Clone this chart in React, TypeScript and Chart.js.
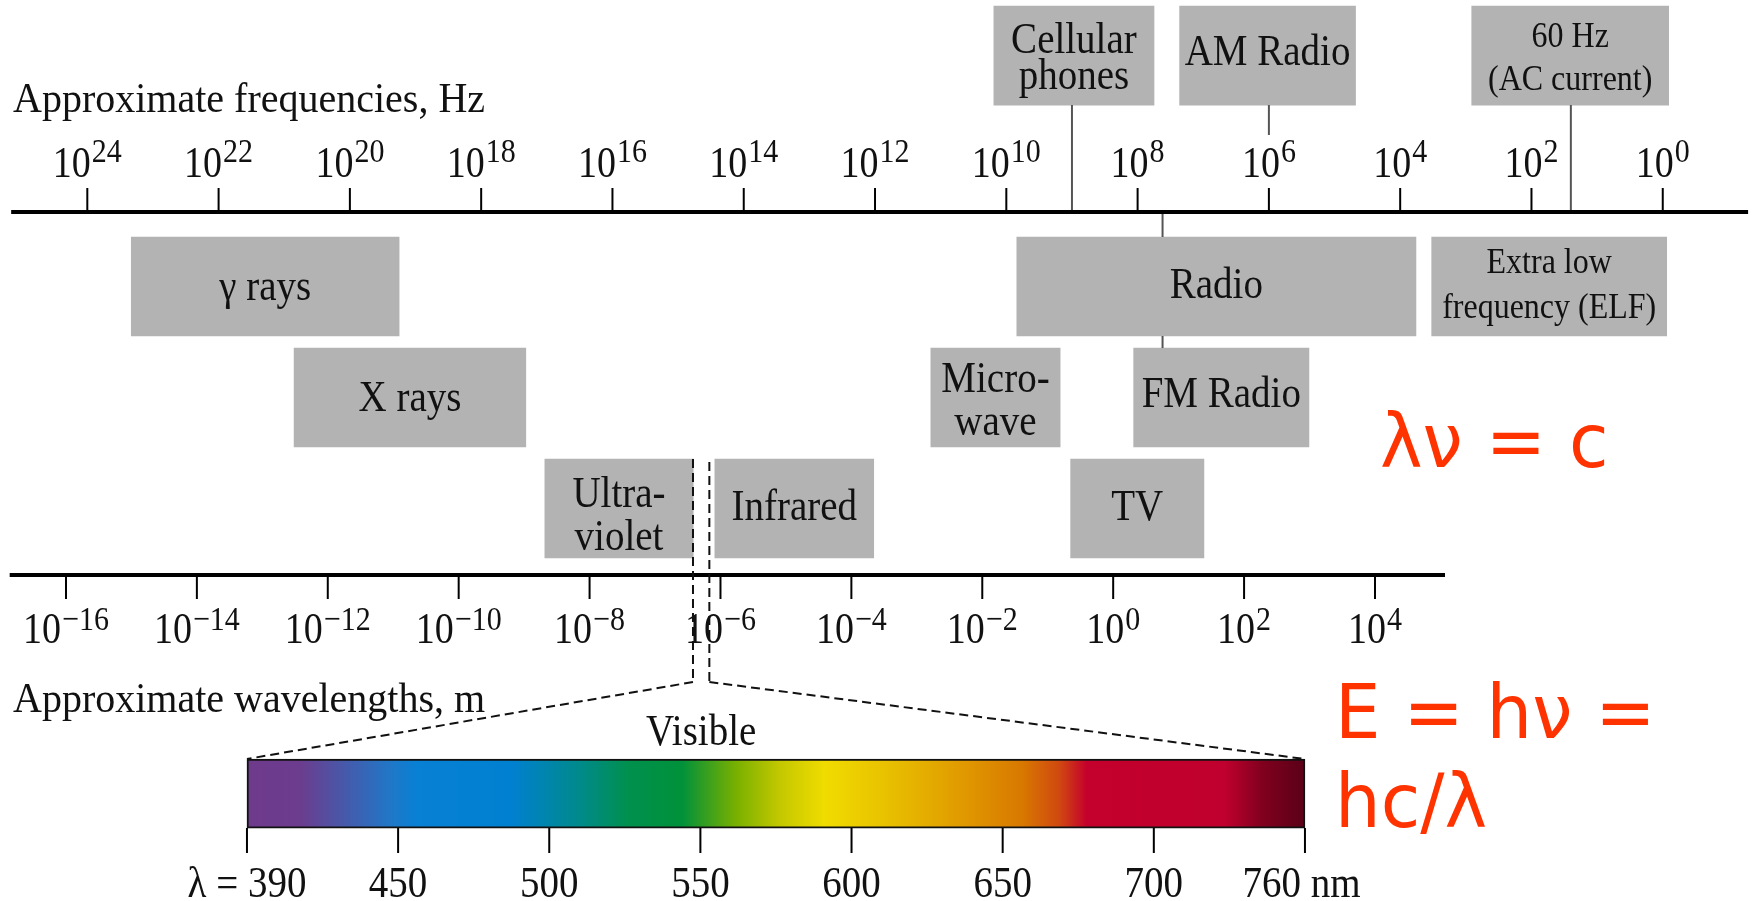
import React, { useEffect, useRef } from 'react';
import { Chart, registerables } from 'chart.js';

Chart.register(...registerables);

// ---------------- data ----------------
const frequencyExponents = [24, 22, 20, 18, 16, 14, 12, 10, 8, 6, 4, 2, 0];
const wavelengthExponents = [-16, -14, -12, -10, -8, -6, -4, -2, 0, 2, 4];
const visibleTickLabels = ['390', '450', '500', '550', '600', '650', '700', '760'];

const bandLabels = [
  'Cellular\nphones', 'AM Radio', '60 Hz\n(AC current)',
  'γ rays', 'Radio', 'Extra low\nfrequency (ELF)',
  'X rays', 'Micro-\nwave', 'FM Radio',
  'Ultra-\nviolet', 'Infrared', 'TV',
];
// log10(frequency / Hz) span of each band
const bandLogFreqHigh = [10.19, 7.36, 2.91, 23.33, 9.84, 3.52, 20.85, 11.15, 8.06, 17.03, 14.44, 9.02];
const bandLogFreqLow = [7.75, 4.68, -0.09, 19.25, 3.76, -0.06, 17.32, 9.18, 5.39, 14.77, 12.02, 6.99];
const bandLane = [-2.08, -2.08, -2.08, 0, 0, 0, 1, 1, 1, 2, 2, 2];

// log10(frequency) of the connector marks: cellular, AM, 60 Hz, radio/FM
const markerLogFreq = [9.0, 6.0, 1.4, 7.62];
// log10(wavelength / m) limits of the visible window
const visibleLogWavelength = [-6.42, -6.17];
const spectrumLane = [4.568];

// ---------------- styles / layout ----------------
const SERIF = '"Liberation Serif", "Times New Roman", serif';
const SANS = '"DejaVu Sans", sans-serif';
const RED = '#ff3300';
const BOX = '#b3b3b3';
const FREQ_Y = 212;
const WAVE_Y = 575;

const bandLabelLayout = [
  { size: 39, base: [-2.5, 33] },
  { size: 39, base: [9.5] },
  { size: 32, base: [-8.5, 34] },
  { size: 39, base: [13.5] },
  { size: 39, base: [11.5] },
  { size: 32, base: [-13.5, 31.5] },
  { size: 39, base: [13.5] },
  { size: 39, base: [-5.5, 37.5] },
  { size: 39, base: [9.5] },
  { size: 39, base: [-1.5, 41.5] },
  { size: 39, base: [11.5] },
  { size: 39, base: [11.5] },
];

const spectrumStops: [number, string][] = [
  [0, '#6e3a8c'], [0.05, '#6c3c8e'], [0.137, '#1f78c8'], [0.16, '#0880d4'],
  [0.25, '#0080d0'], [0.315, '#008a8a'], [0.36, '#00904e'], [0.411, '#00913a'],
  [0.462, '#78b000'], [0.504, '#c4c800'], [0.546, '#f0dc00'], [0.606, '#e8c000'],
  [0.679, '#e09800'], [0.733, '#d87800'], [0.768, '#d04810'], [0.794, '#c4002c'],
  [0.924, '#c0002e'], [0.96, '#80001e'], [1, '#5a0018'],
];

function txt(ctx: CanvasRenderingContext2D, s: string, x: number, y: number, font: string,
  align: CanvasTextAlign = 'center', color = '#111', sy = 1.12) {
  ctx.save();
  ctx.font = font;
  ctx.fillStyle = color;
  ctx.textAlign = align;
  ctx.textBaseline = 'alphabetic';
  ctx.translate(x, y);
  ctx.scale(1, sy);
  ctx.fillText(s, 0, 0);
  ctx.restore();
}

function pow10(ctx: CanvasRenderingContext2D, exp: string, cx: number, base: number, raise: number) {
  const mainFont = `38px ${SERIF}`;
  const supFont = `30px ${SERIF}`;
  ctx.font = mainFont;
  const w1 = ctx.measureText('10').width;
  ctx.font = supFont;
  const w2 = ctx.measureText(exp).width;
  const start = cx - (w1 + 1 + w2) / 2;
  txt(ctx, '10', start, base, mainFont, 'left', '#111', 1.15);
  txt(ctx, exp, start + w1 + 1, base - raise, supFont, 'left', '#111', 1.15);
}

function seg(ctx: CanvasRenderingContext2D, x1: number, y1: number, x2: number, y2: number) {
  ctx.beginPath();
  ctx.moveTo(x1, y1);
  ctx.lineTo(x2, y2);
  ctx.stroke();
}

const diagramPlugin = {
  id: 'diagram',
  afterDatasetsDraw(chart: any) {
    const ctx: CanvasRenderingContext2D = chart.ctx;
    const xf = chart.scales.x;
    const xw = chart.scales.xw;
    const xs = chart.scales.xs;
    const ys = chart.scales.y;
    ctx.save();
    ctx.lineCap = 'butt';

    // connectors
    ctx.strokeStyle = '#555';
    ctx.lineWidth = 2;
    seg(ctx, xf.getPixelForValue(markerLogFreq[0]), 105, xf.getPixelForValue(markerLogFreq[0]), FREQ_Y);
    seg(ctx, xf.getPixelForValue(markerLogFreq[1]), 105, xf.getPixelForValue(markerLogFreq[1]), 135);
    seg(ctx, xf.getPixelForValue(markerLogFreq[2]), 105, xf.getPixelForValue(markerLogFreq[2]), FREQ_Y);
    seg(ctx, xf.getPixelForValue(markerLogFreq[3]), FREQ_Y, xf.getPixelForValue(markerLogFreq[3]), 237);
    seg(ctx, xf.getPixelForValue(markerLogFreq[3]), 336, xf.getPixelForValue(markerLogFreq[3]), 348);

    // frequency axis
    ctx.strokeStyle = '#000';
    ctx.lineWidth = 4;
    seg(ctx, xf.getPixelForValue(25.16), FREQ_Y, xf.getPixelForValue(-1.3), FREQ_Y);
    ctx.lineWidth = 2;
    frequencyExponents.forEach((e) => {
      const px = xf.getPixelForValue(e);
      seg(ctx, px, 188, px, FREQ_Y);
      pow10(ctx, String(e), px, 177, 15);
    });

    // wavelength axis
    ctx.lineWidth = 4;
    seg(ctx, xw.getPixelForValue(-16.86), WAVE_Y, xw.getPixelForValue(5.07), WAVE_Y);
    ctx.lineWidth = 2;
    wavelengthExponents.forEach((e) => {
      const px = xw.getPixelForValue(e);
      seg(ctx, px, WAVE_Y, px, 599);
      pow10(ctx, (e < 0 ? '\u2212' : '') + Math.abs(e), px, 643, 13);
    });

    // axis titles
    txt(ctx, 'Approximate frequencies, Hz', 13, 112, `40px ${SERIF}`, 'left', '#111', 1.08);
    txt(ctx, 'Approximate wavelengths, m', 13, 712, `40px ${SERIF}`, 'left', '#111', 1.08);

    // band labels
    bandLabels.forEach((label, i) => {
      const cx = (xf.getPixelForValue(bandLogFreqLow[i]) + xf.getPixelForValue(bandLogFreqHigh[i])) / 2;
      const cy = ys.getPixelForValue(bandLane[i]);
      const lay = bandLabelLayout[i];
      label.split('\n').forEach((line, k) => {
        txt(ctx, line, cx, cy + lay.base[k], `${lay.size}px ${SERIF}`, 'center', '#111', 1.12);
      });
    });

    // visible window dashed lines
    const v1 = xw.getPixelForValue(visibleLogWavelength[0]);
    const v2 = xw.getPixelForValue(visibleLogWavelength[1]);
    const s0 = xs.getPixelForValue(0);
    const s7 = xs.getPixelForValue(visibleTickLabels.length - 1);
    ctx.strokeStyle = '#111';
    ctx.lineWidth = 2;
    ctx.setLineDash([9, 5]);
    seg(ctx, v1, 459, v1, 682);
    seg(ctx, v2, 462, v2, 682);
    seg(ctx, v1, 682, s0, 759);
    seg(ctx, v2, 682, s7, 759);
    ctx.setLineDash([]);
    txt(ctx, 'Visible', (v1 + v2) / 2, 745, `39px ${SERIF}`, 'center', '#111', 1.12);

    // spectrum ticks
    ctx.strokeStyle = '#000';
    ctx.lineWidth = 2;
    visibleTickLabels.forEach((lab, i) => {
      const px = xs.getPixelForValue(i);
      seg(ctx, px, 828, px, 853);
      const f = `39px ${SERIF}`;
      if (i === 0) {
        ctx.font = f;
        const w = ctx.measureText('λ = ').width;
        txt(ctx, 'λ = ' + lab, px - w + 1, 897, f, 'left', '#111', 1.12);
      } else if (i === visibleTickLabels.length - 1) {
        ctx.font = f;
        const w = ctx.measureText(lab).width;
        txt(ctx, lab + ' nm', px - w - 4, 897, f, 'left', '#111', 1.12);
      } else {
        txt(ctx, lab, px, 897, f, 'center', '#111', 1.12);
      }
    });

    // equations
    txt(ctx, 'λν = c', 1380, 467, `72px ${SANS}`, 'left', RED, 1.05);
    txt(ctx, 'E = hν =', 1335, 738, `72px ${SANS}`, 'left', RED, 1.05);
    txt(ctx, 'hc/λ', 1335, 827, `72px ${SANS}`, 'left', RED, 1.05);

    ctx.restore();
  },
};

export default function App() {
  const ref = useRef<HTMLCanvasElement | null>(null);
  useEffect(() => {
    if (!ref.current) return;
    const chart = new Chart(ref.current, {
      type: 'bar',
      data: {
        datasets: [
          {
            data: bandLabels.map((_, i) => ({ x: [bandLogFreqLow[i], bandLogFreqHigh[i]], y: bandLane[i] })) as any,
            xAxisID: 'x',
            yAxisID: 'y',
            backgroundColor: BOX,
            borderWidth: 0,
            barThickness: 99,
            grouped: false,
          } as any,
          {
            data: spectrumLane.map((lane) => ({ x: [0, visibleTickLabels.length - 1], y: lane })) as any,
            xAxisID: 'xs',
            yAxisID: 'y',
            backgroundColor: (c: any) => {
              const ch = c.chart;
              const s = ch.scales.xs;
              if (!s || !ch.chartArea) return '#888';
              const g = ch.ctx.createLinearGradient(s.getPixelForValue(0), 0, s.getPixelForValue(visibleTickLabels.length - 1), 0);
              spectrumStops.forEach(([o, col]) => g.addColorStop(o, col));
              return g;
            },
            borderColor: '#111',
            borderWidth: 2,
            borderSkipped: false,
            barThickness: 69,
            grouped: false,
          } as any,
        ],
      },
      options: {
        indexAxis: 'y',
        responsive: false,
        maintainAspectRatio: false,
        animation: false,
        events: [],
        layout: { padding: 0 },
        plugins: { legend: { display: false }, tooltip: { enabled: false }, title: { display: false } },
        scales: {
          x: { type: 'linear', display: false, offset: false, reverse: true, min: -1.39, max: 25.33, bounds: 'data' },
          xw: { type: 'linear', axis: 'x', position: 'bottom', display: false, offset: false, min: -17.008, max: 9.791, bounds: 'data' },
          xs: { type: 'linear', axis: 'x', position: 'bottom', display: false, offset: false, min: -1.634, max: 9.971, bounds: 'data' },
          y: { type: 'linear', display: false, offset: false, reverse: true, min: -2.581, max: 5.536, bounds: 'data' },
        } as any,
      },
      plugins: [diagramPlugin],
    });
    return () => chart.destroy();
  }, []);
  return (
    <div style={{ position: 'absolute', left: 0, top: 0, width: 1754, height: 901, background: '#fff' }}>
      <canvas ref={ref} width={1754} height={901} style={{ display: 'block' }} />
    </div>
  );
}
